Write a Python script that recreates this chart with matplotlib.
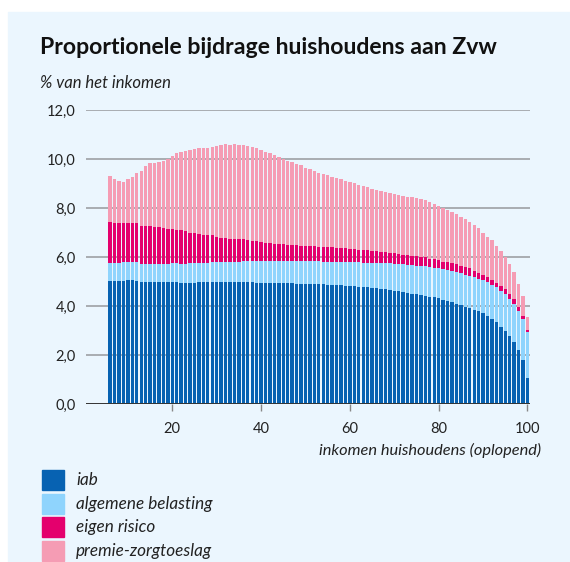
import matplotlib.pyplot as plt
import numpy as np
from matplotlib.patches import Rectangle

# percentielen van het huishoudinkomen (oplopend)
percentiel = np.arange(6, 101)

top_iab = [
    5.03, 5.03, 5.04, 5.05, 5.07, 5.06, 5.02,
    4.98, 4.98, 4.98, 4.98, 4.99, 4.98, 4.98, 4.98, 4.98, 4.97, 4.97, 4.97, 4.97,
    4.98, 4.98, 4.98, 4.98, 4.98, 4.98, 4.98, 4.98, 4.98, 4.98, 4.98, 4.98, 4.98, 4.97,
    4.97, 4.97, 4.96, 4.96, 4.95, 4.95, 4.94, 4.94, 4.93, 4.92, 4.92, 4.91, 4.90, 4.90,
    4.89, 4.88, 4.87, 4.86, 4.85, 4.84, 4.83, 4.82, 4.80, 4.79, 4.77, 4.76, 4.74, 4.72,
    4.70, 4.68,
    4.64, 4.61, 4.58, 4.55, 4.52, 4.49, 4.46, 4.43, 4.40, 4.36, 4.32, 4.27, 4.22, 4.16,
    4.10, 4.04, 3.98, 3.92, 3.86, 3.79, 3.71, 3.61, 3.49, 3.34, 3.16, 2.98, 2.77, 2.53,
    2.20, 1.81, 1.09,
]
top_belasting = [
    5.75, 5.75, 5.77, 5.80, 5.82, 5.82, 5.80, 5.74, 5.73, 5.73, 5.72, 5.74, 5.73, 5.74,
    5.75, 5.75, 5.74, 5.73, 5.75, 5.76, 5.77, 5.78, 5.78, 5.79, 5.80, 5.80, 5.81, 5.81,
    5.82, 5.82, 5.83, 5.83, 5.84, 5.85,
    5.85, 5.85, 5.85, 5.85, 5.85, 5.85, 5.84, 5.84, 5.84, 5.84, 5.83, 5.83, 5.83, 5.83,
    5.82, 5.82, 5.82, 5.81, 5.81, 5.80, 5.80, 5.79, 5.79, 5.78, 5.78, 5.77, 5.77, 5.76,
    5.76, 5.75,
    5.74, 5.73, 5.72, 5.70, 5.68, 5.66, 5.65, 5.63, 5.60, 5.57, 5.55, 5.51, 5.48, 5.44,
    5.40, 5.35, 5.29, 5.24, 5.19, 5.13, 5.07, 4.99, 4.88, 4.78, 4.64, 4.50, 4.31, 4.10,
    3.82, 3.48, 2.97,
]
top_eigen_risico = [
    7.44, 7.39, 7.39, 7.39, 7.41, 7.41, 7.40, 7.29, 7.29, 7.28, 7.22, 7.22, 7.21, 7.16,
    7.15, 7.12, 7.11, 7.07, 6.99, 6.98, 6.97, 6.92, 6.90, 6.89, 6.82, 6.80, 6.79, 6.76,
    6.76, 6.74, 6.74, 6.70, 6.67, 6.66,
    6.62, 6.60, 6.58, 6.56, 6.54, 6.53, 6.52, 6.50, 6.49, 6.48, 6.47, 6.46, 6.45, 6.44,
    6.43, 6.42, 6.41, 6.40, 6.39, 6.37, 6.35, 6.33, 6.31, 6.30, 6.28, 6.26, 6.24, 6.22,
    6.20, 6.18,
    6.16, 6.13, 6.11, 6.09, 6.07, 6.05, 6.03, 6.00, 5.94, 5.92, 5.89, 5.82, 5.80, 5.75,
    5.71, 5.64, 5.60, 5.55, 5.46, 5.37, 5.27, 5.18, 5.07, 4.97, 4.83, 4.69, 4.50, 4.29,
    3.99, 3.62, 3.05,
]
top_premie = [
    9.33, 9.18, 9.12, 9.06, 9.18, 9.28, 9.43, 9.52, 9.73, 9.84, 9.85, 9.90, 9.95, 10.01,
    10.15, 10.24, 10.30, 10.35, 10.39, 10.44, 10.46, 10.46, 10.46, 10.52, 10.56, 10.60,
    10.63, 10.58, 10.64, 10.58, 10.57, 10.56, 10.52, 10.45,
    10.38, 10.29, 10.24, 10.16, 10.10, 10.01, 9.93, 9.88, 9.81, 9.76, 9.66, 9.59, 9.54,
    9.44, 9.40, 9.35, 9.29, 9.22, 9.18, 9.13, 9.06, 9.02, 8.95, 8.90, 8.86, 8.79, 8.75,
    8.71, 8.67, 8.63,
    8.59, 8.55, 8.51, 8.47, 8.45, 8.43, 8.39, 8.34, 8.27, 8.19, 8.11, 8.01, 7.93, 7.86,
    7.77, 7.66, 7.56, 7.43, 7.32, 7.18, 7.00, 6.84, 6.71, 6.46, 6.26, 6.00, 5.73, 5.39,
    4.91, 4.42, 3.55,
]

labels = ["iab", "algemene belasting", "eigen risico", "premie-zorgtoeslag"]
colors = ["#0762b2", "#8fd4fd", "#e4006d", "#f59cb4"]
y_ticks = [0, 2, 4, 6, 8, 10, 12]
x_ticks = [20, 40, 60, 80, 100]

BG = "#ebf6fe"
W, H = 570, 562

plt.rcParams["font.family"] = ["Lato", "DejaVu Sans"]

fig = plt.figure(figsize=(W / 100, H / 100), dpi=100)
fig.patch.set_facecolor("white")
fig.add_artist(Rectangle((8 / W, 0), 1 - 8 / W, 1 - 12 / H,
                         transform=fig.transFigure, color=BG, zorder=-10))

ax = fig.add_axes([85.7 / W, 1 - 404.3 / H, 444 / W, 294 / H])
ax.set_facecolor("none")

tops = [top_iab, top_belasting, top_eigen_risico, top_premie]
bottom = np.zeros(len(percentiel))
for top, color in zip(tops, colors):
    top = np.asarray(top)
    ax.bar(percentiel, top - bottom, bottom=bottom, width=0.76,
           color=color, linewidth=0, zorder=3)
    bottom = top

ax.set_xlim(0.5, 100.5)
ax.set_ylim(0, 12)

for v in y_ticks[1:]:
    ax.axhline(v, color="#a3a7ab", linewidth=1.3, zorder=1)
ax.axhline(0, color="#333333", linewidth=1.4, zorder=4)

ax.set_yticks(y_ticks)
ax.set_yticklabels([f"{v:.1f}".replace(".", ",") for v in y_ticks],
                   fontsize=10.5, color="#222222")
ax.set_xticks(x_ticks)
ax.set_xticklabels([str(v) for v in x_ticks], fontsize=10.5, color="#222222")
ax.tick_params(axis="y", length=0, pad=7)
ax.tick_params(axis="x", length=5, width=1, color="#888888", pad=8)
for s in ax.spines.values():
    s.set_visible(False)

fig.text(40 / W, 1 - 47 / H, "Proportionele bijdrage huishoudens aan Zvw",
         fontsize=16.6, fontweight="bold", color="#111111", va="center")
fig.text(40 / W, 1 - 83 / H, "% van het inkomen", fontsize=12,
         style="italic", color="#222222", va="center")
fig.text(541 / W, 1 - 450 / H, "inkomen huishoudens (oplopend)", fontsize=11.8,
         style="italic", color="#222222", va="center", ha="right")

# legenda
for i, (lab, color) in enumerate(zip(labels, colors)):
    yc = 480 + i * 23.7
    fig.add_artist(Rectangle((42 / W, 1 - (yc + 10) / H), 22 / W, 20 / H,
                             transform=fig.transFigure, color=color))
    fig.text(76 / W, 1 - yc / H, lab, fontsize=12.3, style="italic",
             color="#222222", va="center")

fig.savefig("out.png", dpi=100, facecolor="white")
